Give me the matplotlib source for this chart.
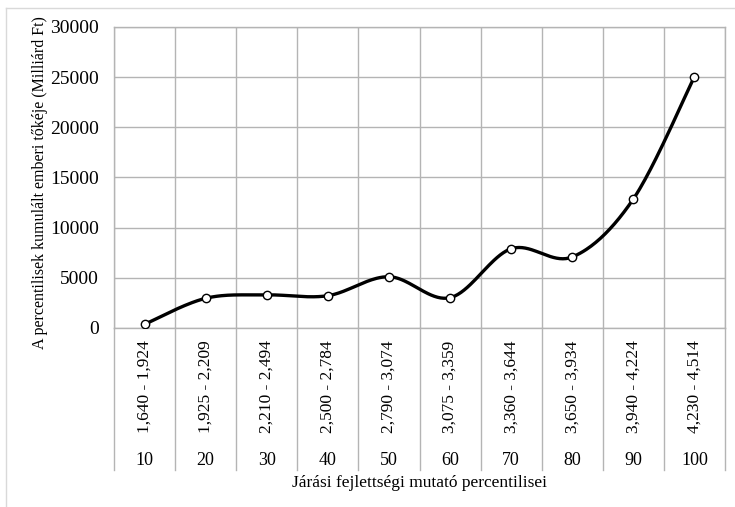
import numpy as np
import matplotlib.pyplot as plt
from matplotlib.lines import Line2D
import matplotlib.transforms as mtransforms

# Percentilisek és a hozzájuk tartozó kumulált emberi tőke (Milliárd Ft)
percentilisek = ['10', '20', '30', '40', '50', '60', '70', '80', '90', '100']
savok = ['1,640 - 1,924', '1,925 - 2,209', '2,210 - 2,494', '2,500 - 2,784',
         '2,790 - 3,074', '3,075 - 3,359', '3,360 - 3,644', '3,650 - 3,934',
         '3,940 - 4,224', '4,230 - 4,514']
ertekek = [370, 2960, 3300, 3220, 5110, 3020, 7900, 7080, 12860, 25050]

racs = '#b4b4b4'
plt.rcParams['font.family'] = ['Liberation Serif', 'DejaVu Serif']


# Simított görbe (Catmull-Rom jellegű Bezier szakaszok)
def simitas(x, y, n=40):
    x = np.asarray(x, float)
    y = np.asarray(y, float)
    px = np.concatenate([[x[0]], x, [x[-1]]])
    py = np.concatenate([[y[0]], y, [y[-1]]])
    xs, ys = [], []
    t = np.linspace(0, 1, n)
    for i in range(1, len(px) - 2):
        p0 = np.array([px[i], py[i]])
        p3 = np.array([px[i + 1], py[i + 1]])
        c1 = p0 + (p3 - np.array([px[i - 1], py[i - 1]])) / 6
        c2 = p3 - (np.array([px[i + 2], py[i + 2]]) - p0) / 6
        b = ((1 - t) ** 3)[:, None] * p0 + (3 * (1 - t) ** 2 * t)[:, None] * c1 \
            + (3 * (1 - t) * t ** 2)[:, None] * c2 + (t ** 3)[:, None] * p3
        xs.append(b[:, 0])
        ys.append(b[:, 1])
    return np.concatenate(xs), np.concatenate(ys)


fig = plt.figure(figsize=(7.35, 5.07), dpi=100)
ax = fig.add_axes([114 / 735, 1 - 328 / 507, 611 / 735, 301 / 507])

x = np.arange(len(ertekek)) + 0.5
sx, sy = simitas(x, ertekek)
ax.plot(sx, sy, color='black', lw=2.4, zorder=3)
ax.plot(x, ertekek, 'o', ms=6, mfc='white', mec='black', mew=1.0, zorder=4)

ax.set_xlim(0, len(ertekek))
ax.set_ylim(0, 30000)
ax.set_yticks(np.arange(0, 30001, 5000))
ax.set_xticks(np.arange(0, len(ertekek) + 1))
ax.set_xticklabels([])
ax.grid(True, color=racs, lw=1)
ax.tick_params(axis='y', length=0, labelsize=14, pad=11)
ax.tick_params(axis='x', length=0, pad=0)
for s in ax.spines.values():
    s.set_color(racs)
    s.set_linewidth(1)
ax.set_axisbelow(True)

# Kategória-táblázat a tengely alatt
trans = mtransforms.blended_transform_factory(ax.transData, ax.transAxes)
for i in range(len(ertekek) + 1):
    ax.plot([i, i], [0, -0.472], color=racs, lw=1, transform=trans, clip_on=False)
for i in range(len(ertekek)):
    ax.text(i + 0.5, -0.196, savok[i], rotation=90, ha='center', va='center',
            fontsize=12.5, transform=trans)
    ax.text(i + 0.5, -0.439, percentilisek[i], ha='center', va='center',
            fontsize=13, transform=trans)

ax.text(0.5, -0.515, 'Járási fejlettségi mutató percentilisei', ha='center',
        va='center', fontsize=12.5, transform=ax.transAxes)
fig.text(40 / 735, 1 - 183 / 507, 'A percentilisek kumulált emberi tőkéje (Milliárd Ft)',
         rotation=90, ha='center', va='center', fontsize=11.5)

# Külső keret (felső és bal vonal)
fig.add_artist(Line2D([6 / 735, 1], [1 - 8 / 507, 1 - 8 / 507], color='#d9d9d9', lw=1))
fig.add_artist(Line2D([6 / 735, 6 / 735], [0, 1 - 8 / 507], color='#d9d9d9', lw=1))

fig.savefig('out.png', dpi=100)
